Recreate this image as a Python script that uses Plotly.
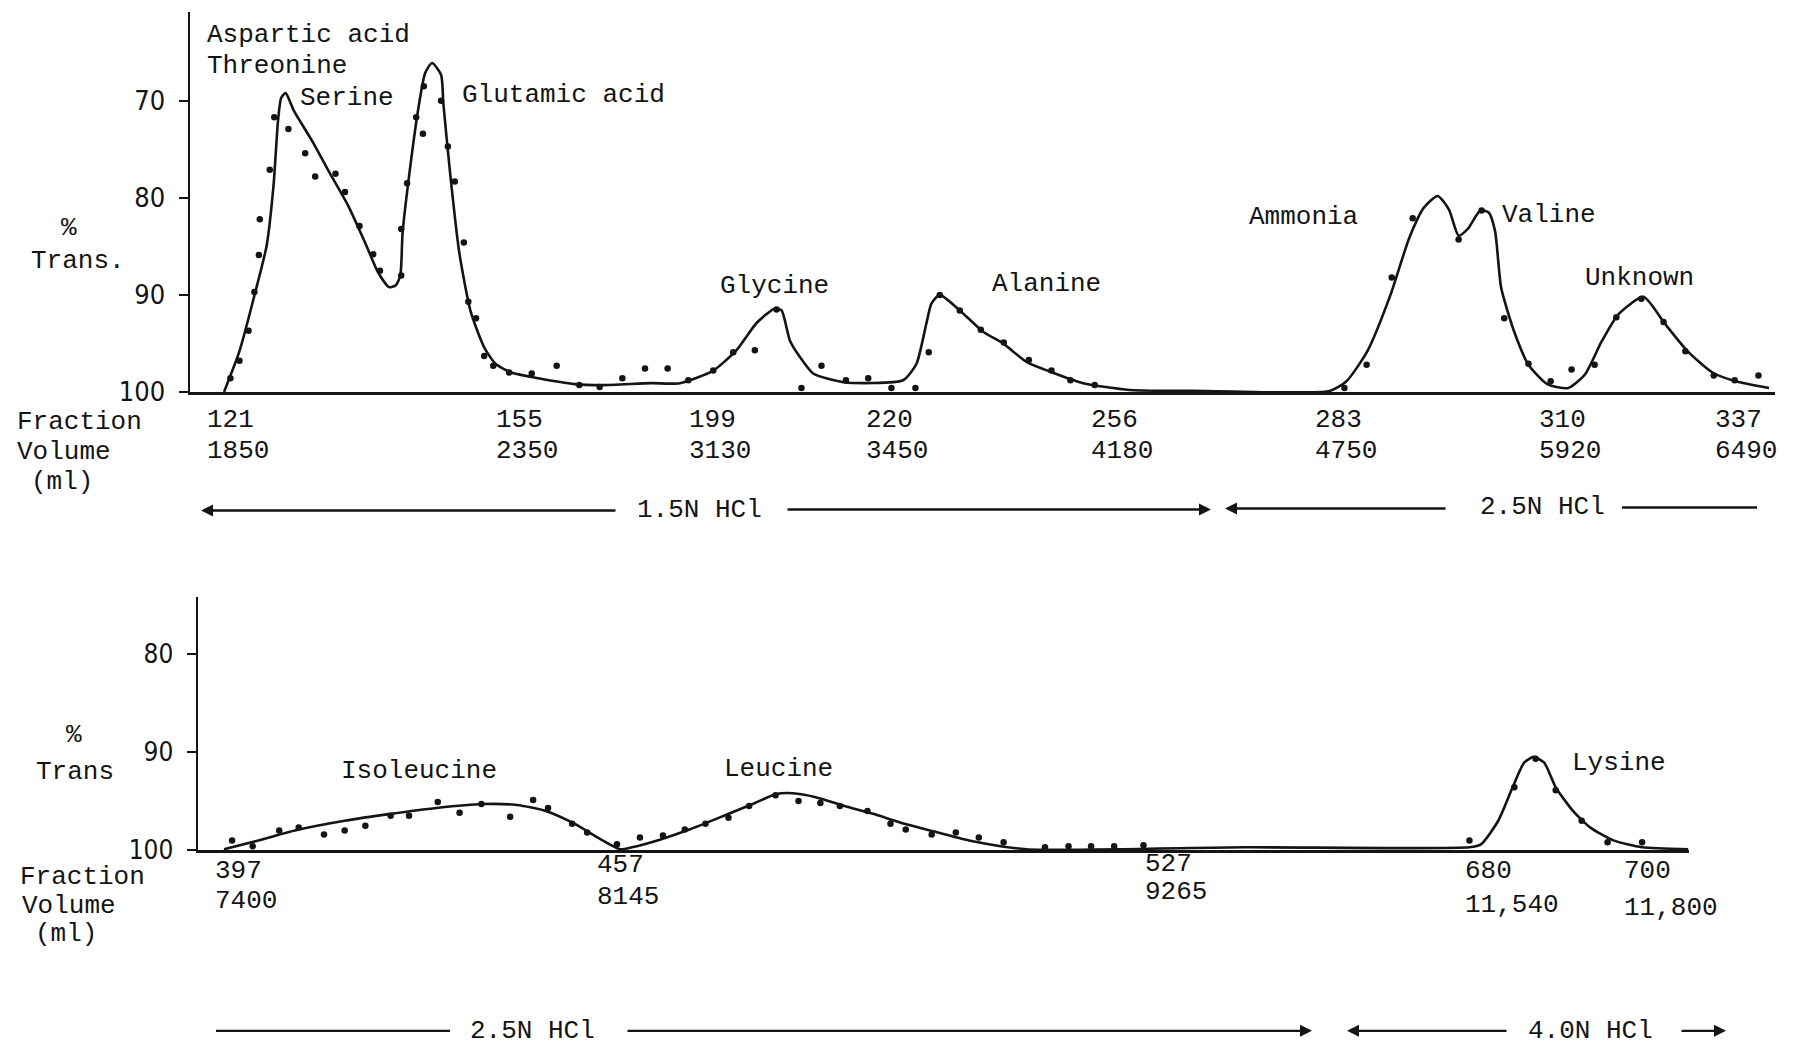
import plotly.graph_objects as go

# The figure keeps the default 8px page margin; the captured page area is a
# little taller than the picture, so vertical page positions are stretched by S.
OFF = 8
W, H = 1786, 1047
S = 1063 / 1047

# ---------------- DATA ----------------
# Upper chromatogram (fractions 121-337); x = position along the hand-drawn abscissa
top_curve_x = [195, 208.4, 222.2, 232.1, 238, 242, 244.7, 248.6, 255.7, 271.5, 287.3, 303, 318.8, 328.7,
               338.6, 344.5, 348.4, 350.4, 356.3, 364.2, 370.1, 376, 383.9, 385.9, 391.8, 399.7, 409.6,
               421.4, 431.3, 445.1, 468.7, 500.3, 524, 567, 591.8, 620.8, 641.1, 658.5, 674.5, 680.3,
               687.5, 696.2, 707.8, 733.9, 786.1, 797.7, 806.4, 810.7, 818, 835.4, 855.7, 873.1, 893.4,
               913.7, 942.7, 983.3, 1050, 1157.4, 1172, 1190.2, 1210.3, 1226.7, 1239.4, 1251.4, 1261.2,
               1269.6, 1277.6, 1288.5, 1295.8, 1301.3, 1306.7, 1317.7, 1330.4, 1346.8, 1365, 1379.6,
               1394.1, 1408.7, 1430.5, 1448.7, 1468.8, 1490.6, 1510.7, 1539.8]
top_curve_t = [100, 95.8, 89.7, 84.9, 78.8, 72.0, 69.7, 69.2, 71.0, 74.1, 77.5, 80.8, 84.9, 87.6,
               89.2, 89.0, 88.0, 83.6, 77.5, 70.7, 67.1, 66.1, 67.3, 70.3, 77.5, 85.6, 91.7,
               95.4, 97.1, 98.0, 98.6, 99.2, 99.3, 99.1, 99.1, 97.8, 95.7, 92.9, 91.4, 91.6,
               94.7, 96.4, 98.1, 99.0, 98.8, 97.1, 92.9, 90.9, 90.0, 91.6, 93.8, 95.0, 96.9,
               97.9, 99.1, 99.8, 99.9, 99.9, 98.9, 95.8, 90.0, 84.1, 81.0, 79.8, 81.2,
               83.9, 83.2, 81.3, 81.5, 83.4, 89.3, 93.7, 97.2, 99.2, 99.6, 98.2,
               94.8, 92.0, 90.2, 92.9, 95.8, 98.0, 98.9, 99.6]

top_dots_x = [200.5, 208.4, 216.3, 221.4, 225.3, 226.1, 234.8, 238.7, 251, 265.6, 274.3, 292, 300.3,
              312.9, 324.8, 330.7, 349.2, 349.2, 354.3, 362.2, 368.1, 368.9, 383.9, 389.8, 395.8,
              403.7, 407.6, 414.3, 421.4, 429.3, 443.1, 462.8, 484.5, 504.2, 521.9, 541.7, 561.4,
              581.1, 599.1, 620.8, 638.2, 657, 675.9, 697.6, 715, 736.3, 755.7, 775.9, 796.8, 808.4,
              818, 835.4, 853.7, 873.7, 895.5, 915.2, 931.7, 952.9, 1170.2, 1189.5, 1211.4, 1229.6,
              1269.6, 1289.6, 1309.3, 1330.4, 1349.7, 1367.9, 1388, 1406.9, 1428.7, 1448, 1467,
              1491.7, 1509.9, 1530.6]
top_dots_t = [98.6, 96.8, 93.7, 89.7, 85.9, 82.2, 77.1, 71.7, 72.9, 75.4, 77.8, 77.5, 79.4,
              82.9, 85.8, 87.5, 88.0, 83.2, 78.5, 71.7, 73.4, 68.5, 70.0, 74.7, 78.3,
              84.6, 90.7, 92.4, 96.3, 97.3, 98.0, 98.1, 97.3, 99.3, 99.5, 98.6, 97.6,
              97.6, 98.8, 97.8, 95.9, 95.7, 91.5, 99.6, 97.3, 98.8, 98.6, 99.6, 99.6, 95.9,
              90.0, 91.6, 93.6, 94.9, 96.7, 97.8, 98.8, 99.3, 99.6, 97.2, 88.2, 82.1,
              84.3, 81.3, 92.4, 97.1, 98.9, 97.7, 97.2, 92.3, 90.4, 92.8, 95.8,
              98.3, 98.8, 98.3]

top_tick_pos = [178, 430, 598, 752, 948, 1143, 1338, 1491]
top_fractions = ["121", "155", "199", "220", "256", "283", "310", "337"]
top_volumes = ["1850", "2350", "3130", "3450", "4180", "4750", "5920", "6490"]
top_yticks = [70, 80, 90, 100]

# Lower chromatogram (fractions 397-700)
bot_curve_x = [195, 225, 260, 300, 340, 380, 420, 450, 475, 500, 520, 540, 550, 575, 600, 630, 655,
               675, 690, 710, 735, 760, 784, 813.3, 843.4, 893.4, 1083.6, 1278.9, 1288.9, 1304,
               1316.5, 1326.5, 1335, 1344, 1354, 1369, 1384.2, 1404.2, 1429.2, 1469.3]
bot_curve_t = [99.9, 99.0, 97.9, 97.0, 96.3, 95.7, 95.3, 95.4, 96.0, 97.3, 98.7, 99.9, 99.7, 98.9,
               97.9, 96.5, 95.3, 94.3, 94.2, 94.6, 95.5, 96.3, 97.2, 98.1, 99.0, 99.9, 99.7, 99.7,
               99.4, 97.0, 93.6, 91.1, 90.5, 91.1, 93.6, 96.0, 97.7, 99.0, 99.7, 99.9]

bot_dots_x = [202, 220, 243, 260, 282, 300, 318, 340, 356, 381, 400, 419, 444, 464, 477, 498, 511,
              537, 557, 577, 596, 614, 634, 652, 675, 695, 714, 731, 755, 775, 788.3, 810.9, 831.9,
              851.9, 873.5, 909.5, 930, 949.6, 969.7, 995.2, 1278.9, 1318, 1336.5, 1354, 1376.6,
              1399.1, 1429.2]
bot_dots_t = [99.0, 99.6, 98.0, 97.7, 98.4, 98.0, 97.5, 96.5, 96.5, 95.1, 96.2, 95.3, 96.6, 94.9,
              95.7, 97.3, 98.2, 99.4, 98.7, 98.5, 97.9, 97.3, 96.7, 95.5, 94.4, 95.0, 95.2, 95.5,
              96.0, 97.3, 97.9, 98.4, 98.2, 98.7, 99.2, 99.7, 99.6, 99.6, 99.6, 99.5, 99.0, 93.6,
              90.7, 93.9, 97.0, 99.2, 99.2]

bot_tick_pos = [185, 518, 995, 1273, 1412]
bot_fractions = ["397", "457", "527", "680", "700"]
bot_volumes = ["7400", "8145", "9265", "11,540", "11,800"]
bot_yticks = [80, 90, 100]

top_peaks = ["Aspartic acid", "Threonine", "Serine", "Glutamic acid", "Glycine",
             "Alanine", "Ammonia", "Valine", "Unknown"]
bot_peaks = ["Isoleucine", "Leucine", "Lysine"]

# ---------------- STYLE ----------------
INK = "#141414"
MONO = "Liberation Mono, Courier New, monospace"
NUM = "Liberation Sans Narrow, DejaVu Sans Condensed, Liberation Sans, sans-serif"
FS = 26


def py(pix):
    return 1 - (pix * S - OFF) / H


def px(pix):
    return (pix - OFF) / W


fig = go.Figure()
for cx, cy, dx, dy, xa, ya in [
    (top_curve_x, top_curve_t, top_dots_x, top_dots_t, "x", "y"),
    (bot_curve_x, bot_curve_t, bot_dots_x, bot_dots_t, "x2", "y2"),
]:
    fig.add_trace(go.Scatter(x=cx, y=cy, mode="lines", xaxis=xa, yaxis=ya,
                             line=dict(color=INK, width=2.6, shape="spline", smoothing=0.6),
                             cliponaxis=False, hoverinfo="skip"))
    fig.add_trace(go.Scatter(x=dx, y=dy, mode="markers", xaxis=xa, yaxis=ya,
                             marker=dict(color=INK, size=6.5), cliponaxis=False, hoverinfo="skip"))

ax_common = dict(showgrid=False, zeroline=False, color=INK, linecolor=INK)
fig.update_layout(
    width=W, height=H, margin=dict(l=0, r=0, t=0, b=0),
    paper_bgcolor="white", plot_bgcolor="white", showlegend=False,
    xaxis=dict(domain=[px(189.6), px(1775)], range=[165, 1545], showline=True, linewidth=2.6,
               showticklabels=False, ticks="", anchor="y", **ax_common),
    yaxis=dict(domain=[py(391.5), py(11.5)], range=[100, 60.8], tickvals=top_yticks,
               ticks="outside", ticklen=9, tickwidth=1.6, tickcolor=INK, showline=True, linewidth=2.2,
               ticklabelstandoff=8, tickfont=dict(family=NUM, size=27, color=INK), anchor="x", **ax_common),
    xaxis2=dict(domain=[px(197.6), px(1689)], range=[172, 1470], showline=True, linewidth=2.6,
                showticklabels=False, ticks="", anchor="y2", **ax_common),
    yaxis2=dict(domain=[py(849.5), py(596)], range=[100, 74.2], tickvals=bot_yticks,
                ticks="outside", ticklen=9, tickwidth=1.6, tickcolor=INK, showline=True, linewidth=2.2,
                ticklabelstandoff=8, tickfont=dict(family=NUM, size=26, color=INK), anchor="x2", **ax_common),
)

ann = []


def text(x, y, s, xref="paper", yref="paper", xanchor="left", size=FS):
    ann.append(dict(x=x, y=y, xref=xref, yref=yref, text=s, showarrow=False, xanchor=xanchor,
                    yanchor="middle", align="left", font=dict(family=MONO, size=size, color=INK)))


# x tick labels (fraction / volume rows)
for p, f, v in zip(top_tick_pos, top_fractions, top_volumes):
    text(p, py(420), f, xref="x")
    text(p, py(451), v, xref="x")
bot_frac_y = [870, 864, 863, 870, 870]
bot_vol_y = [900, 896, 891, 904, 907]
for p, f, v, fy, vy in zip(bot_tick_pos, bot_fractions, bot_volumes, bot_frac_y, bot_vol_y):
    text(p, py(fy), f, xref="x2")
    text(p, py(vy), v, xref="x2")

# left-hand captions
text(px(15), py(422), "Fraction")
text(px(15), py(452), "Volume")
text(px(62), py(482), "(ml)", xanchor="center")
text(px(69), py(228), "%", xanchor="center")
text(px(29), py(261), "Trans.")
text(px(18), py(876), "Fraction")
text(px(20), py(905), "Volume")
text(px(66), py(933), "(ml)", xanchor="center")
text(px(74), py(734), "%", xanchor="center")
text(px(34), py(771), "Trans")

# peak names
top_peak_pos = [(178, 63.2), (178, 66.4), (259, 69.7), (400, 69.4), (625, 89.1),
                (862, 88.9), (1085, 82.0), (1306, 81.8), (1378, 88.3)]
for name, (x, y) in zip(top_peaks, top_peak_pos):
    ann.append(dict(x=x, y=y, xref="x", yref="y", text=name, showarrow=False, xanchor="left",
                    yanchor="middle", font=dict(family=MONO, size=FS, color=INK)))
bot_peak_pos = [(295, 91.9), (628, 91.7), (1366, 91.1)]
for name, (x, y) in zip(bot_peaks, bot_peak_pos):
    ann.append(dict(x=x, y=y, xref="x2", yref="y2", text=name, showarrow=False, xanchor="left",
                    yanchor="middle", font=dict(family=MONO, size=FS, color=INK)))

# eluent arrows
shapes = []


def arrow(tail, head, y):
    ann.append(dict(x=px(head), y=py(y), xref="paper", yref="paper", ax=tail - head, ay=0,
                    text="", showarrow=True, arrowhead=2, arrowsize=1, arrowwidth=2.4, arrowcolor=INK))


def seg(x0, x1, y):
    shapes.append(dict(type="line", xref="paper", yref="paper", x0=px(x0), x1=px(x1),
                       y0=py(y), y1=py(y), line=dict(color=INK, width=2.4)))


arrow(617, 201, 510)
text(px(699), py(510), "1.5N HCl", xanchor="center")
arrow(786, 1211, 509)
arrow(1447, 1225, 508)
text(px(1542), py(507), "2.5N HCl", xanchor="center")
seg(1622, 1757, 507)

seg(216, 450, 1030)
text(px(532), py(1030), "2.5N HCl", xanchor="center")
arrow(626, 1312, 1030)
arrow(1508, 1347, 1030)
text(px(1590), py(1030), "4.0N HCl", xanchor="center")
arrow(1680, 1726, 1030)

fig.update_layout(annotations=ann, shapes=shapes)
fig.write_html("out.html", config={"displayModeBar": False})
